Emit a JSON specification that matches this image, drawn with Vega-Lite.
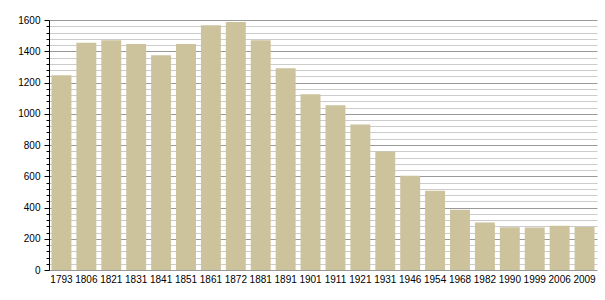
{
  "$schema": "https://vega.github.io/schema/vega-lite/v6.json",
  "autosize": {"type": "none"},
  "width": 548,
  "height": 250,
  "padding": {"left": 49, "top": 20, "right": 8, "bottom": 30},
  "background": "white",
  "config": {
    "view": {"stroke": null},
    "font": "Liberation Sans",
    "axis": {"labelFont": "Liberation Sans", "labelFontSize": 10, "labelColor": "#000000"}
  },
  "data": {
    "values": [
      {"year": "1793", "pop": 1247},
      {"year": "1806", "pop": 1454},
      {"year": "1821", "pop": 1471},
      {"year": "1831", "pop": 1446},
      {"year": "1841", "pop": 1375},
      {"year": "1851", "pop": 1446},
      {"year": "1861", "pop": 1566},
      {"year": "1872", "pop": 1588},
      {"year": "1881", "pop": 1471},
      {"year": "1891", "pop": 1292},
      {"year": "1901", "pop": 1125},
      {"year": "1911", "pop": 1054},
      {"year": "1921", "pop": 932},
      {"year": "1931", "pop": 758},
      {"year": "1946", "pop": 604},
      {"year": "1954", "pop": 508},
      {"year": "1968", "pop": 386},
      {"year": "1982", "pop": 304},
      {"year": "1990", "pop": 274},
      {"year": "1999", "pop": 272},
      {"year": "2006", "pop": 283},
      {"year": "2009", "pop": 276}
    ]
  },
  "encoding": {
    "x": {
      "field": "year", "type": "nominal", "sort": null,
      "scale": {"paddingInner": 0.2, "paddingOuter": 0.1},
      "axis": {"title": null, "labelAngle": 0, "ticks": false, "labelPadding": 4, "domain": false, "grid": false}
    }
  },
  "layer": [
    {
      "mark": {"type": "bar", "opacity": 0},
      "encoding": {
        "y": {
          "field": "pop", "type": "quantitative",
          "scale": {"domain": [0, 1600], "nice": false},
          "axis": {
            "title": null, "orient": "left", "labels": false, "domain": false,
            "values": [40,80,120,160,240,280,320,360,440,480,520,560,640,680,720,760,840,880,920,960,1040,1080,1120,1160,1240,1280,1320,1360,1440,1480,1520,1560],
            "tickSize": 3, "tickColor": "#000000",
            "grid": true, "gridColor": "#cccccc", "gridWidth": 1
          }
        }
      }
    },
    {
      "mark": {"type": "bar", "color": "#ccc29c"},
      "encoding": {
        "y": {
          "field": "pop", "type": "quantitative",
          "scale": {"domain": [0, 1600], "nice": false},
          "axis": {
            "title": null, "orient": "left", "format": "d",
            "values": [0,200,400,600,800,1000,1200,1400,1600],
            "tickSize": 5, "tickColor": "#000000", "labelPadding": 4,
            "domain": true, "domainColor": "#000000",
            "grid": true, "gridColor": "#999999", "gridWidth": 1
          }
        }
      }
    },
    {
      "mark": {"type": "rule", "color": "#000000"},
      "encoding": {"y": {"datum": 0, "type": "quantitative", "axis": null}}
    }
  ],
  "resolve": {"axis": {"y": "independent"}}
}
